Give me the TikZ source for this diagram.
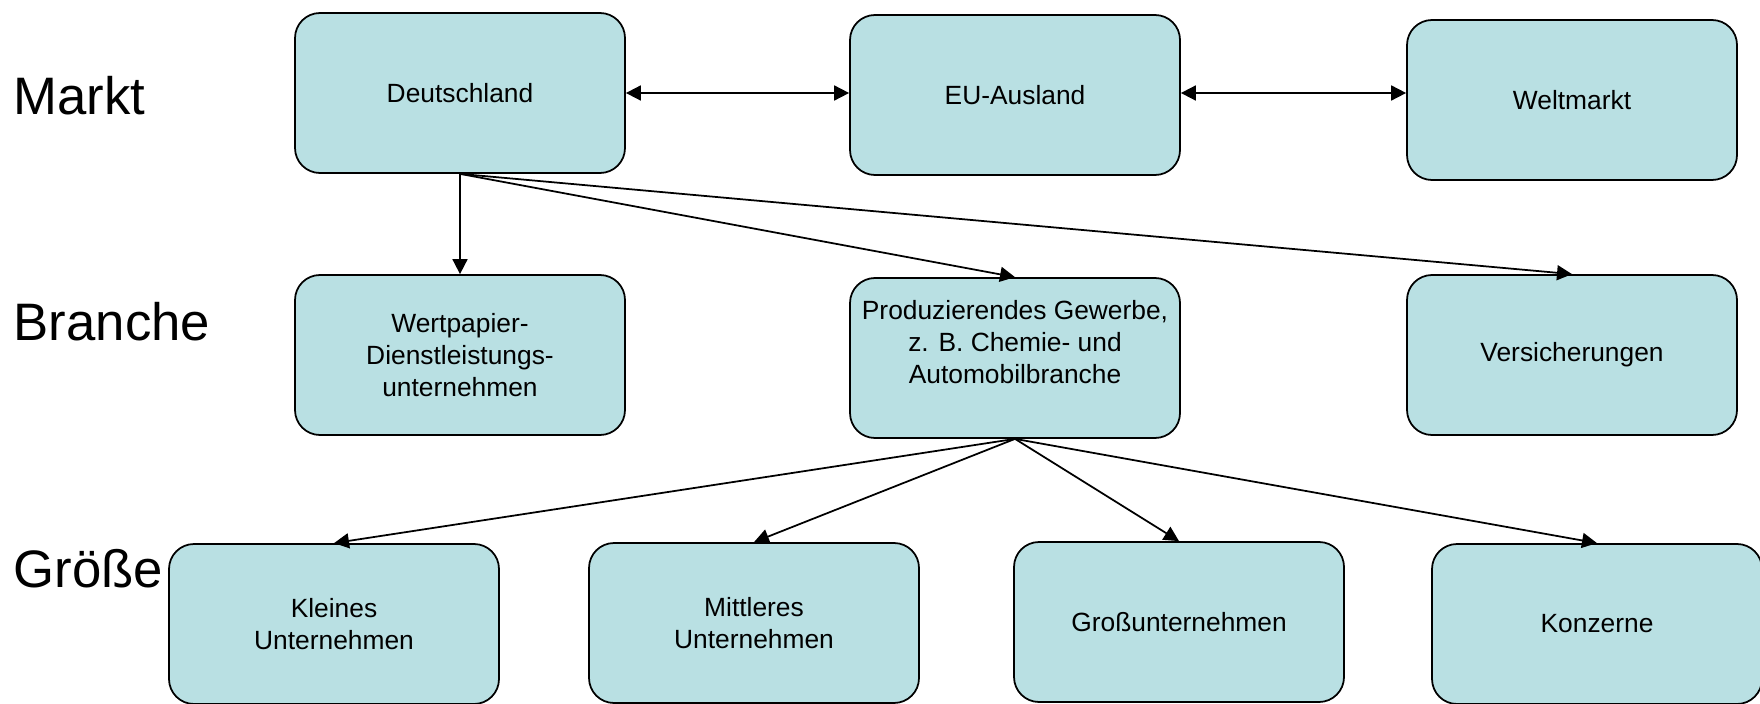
\documentclass[tikz,border=0pt]{standalone}
\usepackage{fontspec}
\setmainfont{Liberation Sans}
\usepackage{tikz}
\usetikzlibrary{
  arrows.meta,
  positioning
}
\usepackage{xcolor}
\definecolor{paleTeal}{rgb}{0.7265625,0.87890625,0.890625}
\tikzset{
  unitbox/.style={
    fill=paleTeal,
    draw=black,
    line width=0.5pt,
    rounded corners=2.5mm,
    minimum width=33mm,
    minimum height=16mm,
    align=center,
    font=\fontsize{7.5}{9.1}\selectfont
  },
  rowlabel/.style={
    anchor=west,
    font=\fontsize{15}{18}\selectfont
  },
  link/.style={
    line width=0.5pt
  }
}
\begin{document}
\begin{tikzpicture}[
      x=0.1mm, y=-0.1mm,
      >={Triangle[length=1.5mm,width=1.5mm]},
      every node/.style={inner sep=0pt}
      ]
      \useasboundingbox (0,0) rectangle (1760,704);

      \node[rowlabel] (markt) at (13,96) {Markt};
      \node[rowlabel] (branche) at (13,322) {Branche};
      \node[rowlabel] (groesse) at (13,569) {Größe};

      \node[unitbox] (de) at (460,93) {Deutschland};
      \node[unitbox] (eu) at (1015,95) {EU-Ausland};
      \node[unitbox] (welt) at (1572,100) {Weltmarkt};

      \node[unitbox] (wp) at (460,355) {Wertpapier-\\Dienstleistungs-\\unternehmen};
      \node[unitbox] (prod) at (1015,358) {Produzierendes Gewerbe,\\z. B. Chemie- und\\Automobilbranche\\ \mbox{}};
      \node[unitbox] (vers) at (1572,355) {Versicherungen};

      \node[unitbox] (klein) at (334,624) {Kleines\\Unternehmen};
      \node[unitbox] (mittel) at (754,623) {Mittleres\\Unternehmen};
      \node[unitbox] (gross) at (1179,622) {Großunternehmen};
      \node[unitbox] (konz) at (1597,624) {Konzerne};

      \draw[<->, link] (de.east) -- (de.east -| eu.west);
      \draw[<->, link] (eu.east |- de.east) -- (de.east -| welt.west);

      \foreach \t in {wp, prod, vers}{
        \draw[->, link] (de.south) -- (\t.north);
      }
      \foreach \t in {klein, mittel, gross, konz}{
        \draw[->, link] (prod.south) -- (\t.north);
      }
\end{tikzpicture}
\end{document}
